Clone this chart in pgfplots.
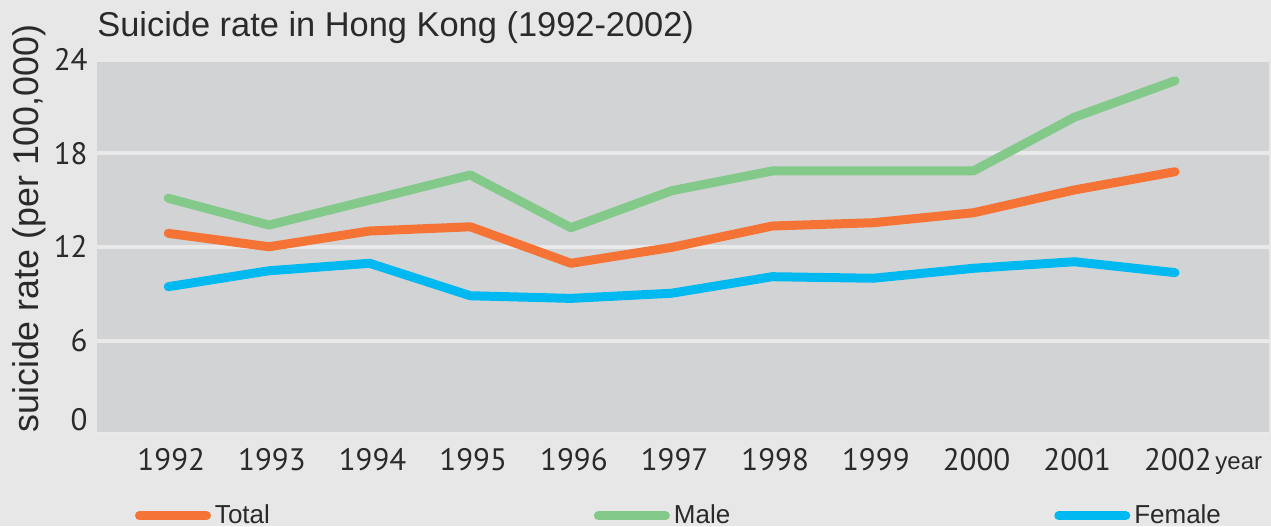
\documentclass[border=0pt]{standalone}
\usepackage{pgfplots}
\pgfplotsset{compat=1.18}
\usepackage{fontspec}
\setmainfont{Liberation Sans}
\newfontfamily\tickfont{PT Sans}
\usetikzlibrary{backgrounds}
\definecolor{bg}{HTML}{E6E7E6}
\definecolor{gridc}{HTML}{E8E9E8}
\definecolor{plotbg}{HTML}{D2D3D5}
\definecolor{ctotal}{HTML}{F47335}
\definecolor{cmale}{HTML}{82C98A}
\definecolor{cfemale}{HTML}{00B9F0}
\definecolor{txt}{HTML}{2B2A29}

\begin{document}
\begin{tikzpicture}
\begin{axis}[
  scale only axis, width=586bp, height=187.2bp,
  xmin=1991.292, xmax=2002.934, ymin=0, ymax=24,
  axis background/.style={fill=plotbg},
  axis line style={draw=none},
  major tick length=0pt,
  xtick={1992,...,2002},
  ytick={6,12,18,24},
  extra y ticks={0},
  extra y tick style={yticklabel style={yshift=7bp}},
  ymajorgrids,
  major grid style={gridc, line width=2bp},
  ticklabel style={font=\tickfont\fontsize{15.5bp}{18bp}\selectfont, text=txt},
  /pgf/number format/assume math mode=true,
  /pgf/number format/1000 sep={},
  xticklabel style={anchor=north, inner sep=0pt, yshift=-7bp, xshift=1.5bp},
  yticklabel style={anchor=east, inner sep=0pt, xshift=-4.5bp},
  title={Suicide rate in Hong Kong (1992-2002)},
  title style={at={(axis description cs:0,1.031)}, anchor=base west, inner sep=0pt,
    font=\fontsize{17.2bp}{20bp}\selectfont, text=txt},
  ylabel={suicide rate (per 100,000)},
  ylabel style={at={(axis description cs:-0.058,0.549)}, anchor=center, inner sep=0pt,
    font=\fontsize{17.9bp}{21bp}\selectfont, text=txt},
  xlabel={year},
  xlabel style={at={(axis description cs:0.954,-0.0932)}, anchor=base west, inner sep=0pt,
    font=\fontsize{12bp}{14bp}\selectfont, text=txt},
  legend columns=3,
  legend image code/.code={\path (0bp,0bp) (37.5bp,0bp); \draw[#1, line cap=round] (2bp,0bp) -- (35.5bp,0bp);},
  legend style={at={(axis description cs:0.029,-0.218)}, anchor=west, draw=none, fill=none,
    inner sep=0pt, outer sep=0pt, font=\fontsize{13bp}{15bp}\selectfont, text=txt,
    nodes={inner sep=0pt}, column sep=0bp,
    /tikz/every even column/.append style={column sep=160bp}},
  every axis plot/.append style={line width=4.5bp, line cap=round, line join=round},
]
\addplot[ctotal] coordinates {
(1992,12.87) (1993,12.01) (1994,13.02) (1995,13.29) (1996,10.95) (1997,11.97)
(1998,13.34) (1999,13.55) (2000,14.19) (2001,15.65) (2002,16.82)};
\addlegendentry{Total}
\addplot[cmale] coordinates {
(1992,15.12) (1993,13.40) (1994,15.00) (1995,16.61) (1996,13.23) (1997,15.60)
(1998,16.87) (1999,16.88) (2000,16.88) (2001,20.31) (2002,22.65)};
\addlegendentry{Male}
\addplot[cfemale] coordinates {
(1992,9.45) (1993,10.47) (1994,10.95) (1995,8.87) (1996,8.70) (1997,9.03)
(1998,10.09) (1999,9.99) (2000,10.63) (2001,11.05) (2002,10.35)};
\addlegendentry{Female}
\coordinate (BL) at (axis description cs:-0.08276,-0.2455);
\coordinate (TR) at (axis description cs:1.00171,1.1595);
\end{axis}
\begin{scope}[on background layer]
\fill[bg] (BL) rectangle (TR);
\end{scope}
\pgfresetboundingbox
\path[use as bounding box] (BL) rectangle (TR);
\end{tikzpicture}
\end{document}
